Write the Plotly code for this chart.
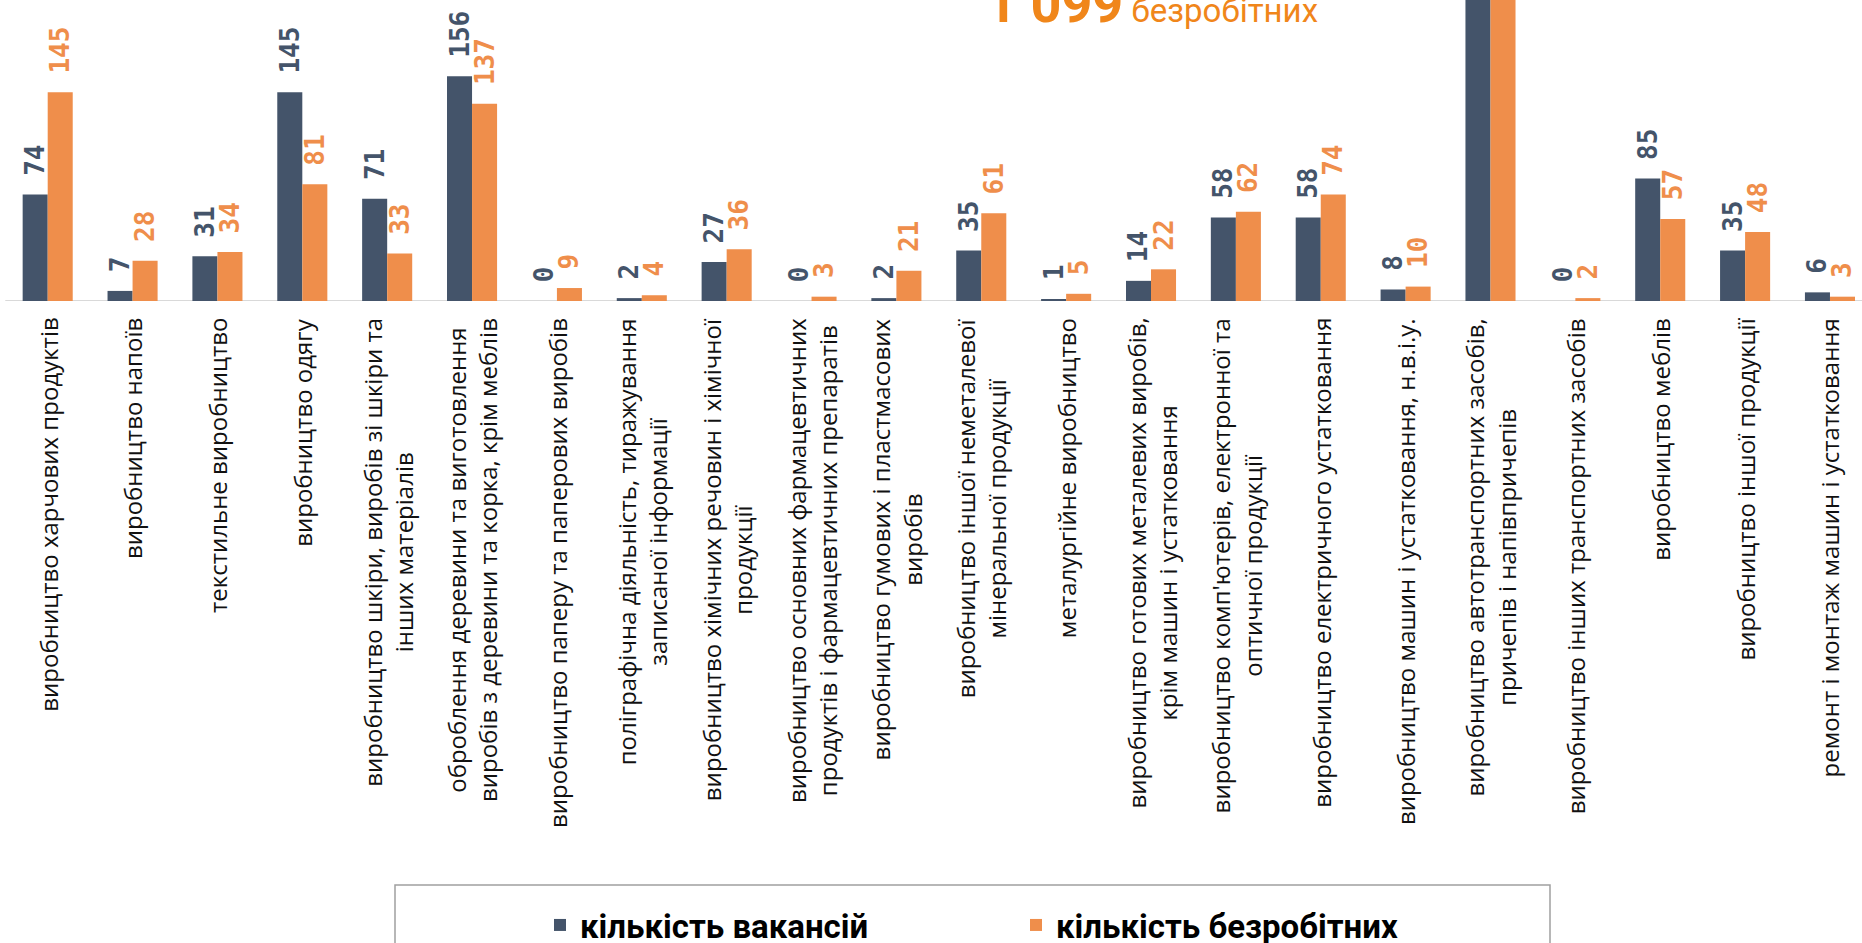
import plotly.graph_objects as go

categories = [
    "виробництво харчових продуктів",
    "виробництво напоїв",
    "текстильне виробництво",
    "виробництво одягу",
    "виробництво шкіри, виробів зі шкіри та<br>інших матеріалів",
    "оброблення деревини та виготовлення<br>виробів з деревини та корка, крім меблів",
    "виробництво паперу та паперових виробів",
    "поліграфічна діяльність, тиражування<br>записаної інформації",
    "виробництво хімічних речовин і хімічної<br>продукції",
    "виробництво основних фармацевтичних<br>продуктів і фармацевтичних препаратів",
    "виробництво гумових і пластмасових<br>виробів",
    "виробництво іншої неметалевої<br>мінеральної продукції",
    "металургійне виробництво",
    "виробництво готових металевих виробів,<br>крім машин і устатковання",
    "виробництво комп'ютерів, електронної та<br>оптичної продукції",
    "виробництво електричного устатковання",
    "виробництво машин і устатковання, н.в.і.у.",
    "виробництво автотранспортних засобів,<br>причепів і напівпричепів",
    "виробництво інших транспортних засобів",
    "виробництво меблів",
    "виробництво іншої продукції",
    "ремонт і монтаж машин і устатковання",
]
vacancies = [74, 7, 31, 145, 71, 156, 0, 2, 27, 0, 2, 35, 1, 14, 58, 58, 8, 350, 0, 85, 35, 6]
unemployed = [145, 28, 34, 81, 33, 137, 9, 4, 36, 3, 21, 61, 5, 22, 62, 74, 10, 224, 2, 57, 48, 3]
series_names = ["кількість вакансій", "кількість безробітних"]
headline_number = "1 099"
headline_word = "безробітних"

DARK = "#44546A"
ORANGE = "#EF8E4B"
HEAD = "#F0861A"

W, H = 1862, 943
PLOT_H = 301
Y_MAX = PLOT_H / 1.44
X_RANGE = [-0.562, -0.562 + W / 84.87]

fig = go.Figure()
for name, vals, col in [(series_names[0], vacancies, DARK), (series_names[1], unemployed, ORANGE)]:
    fig.add_trace(go.Bar(
        x=categories, y=vals, name=name,
        marker=dict(color=col, line=dict(width=0)),
        texttemplate="\u00a0%{y}",
        textposition="outside", textangle=-90,
        textfont=dict(family="DejaVu Sans Mono", size=26, color=col, weight="bold"),
        cliponaxis=False, constraintext="none",
    ))

# category labels, centred multi-line, rotated
for c in categories:
    fig.add_annotation(
        x=c, y=0, xref="x", yref="y", text=c, showarrow=False,
        textangle=-90, yanchor="top", xanchor="center", align="center",
        yshift=-15, font=dict(family="Open Sans", size=24, color="#111111"),
    )

# baseline
fig.add_shape(type="line", xref="x", yref="y", x0=-0.5, x1=len(categories) - 0.5, y0=0, y1=0,
              line=dict(color="#D9D9D9", width=2), layer="below")

# headline (cut off at top)
fig.add_annotation(
    x=984 / W, y=1 - 37 / PLOT_H, xref="paper", yref="paper", xanchor="left", yanchor="bottom",
    showarrow=False,
    text=f"<span style='font-size:54px;font-weight:bold'>{headline_number}</span> {headline_word}",
    font=dict(family="Roboto", size=33, color=HEAD),
)

# legend frame
fig.add_shape(type="rect", xref="paper", yref="paper",
              x0=395 / W, x1=1550 / W, y0=1 - 1000 / PLOT_H, y1=1 - 885 / PLOT_H,
              line=dict(color="#A0A0A0", width=1.5), fillcolor="rgba(0,0,0,0)")

fig.update_layout(
    width=W, height=H,
    margin=dict(l=0, r=0, t=0, b=H - PLOT_H, pad=0),
    paper_bgcolor="white", plot_bgcolor="white",
    barmode="group", bargap=0.41, bargroupgap=0,
    showlegend=True,
    legend=dict(orientation="h", x=540 / W, y=1 - 925 / H, xref="paper", yref="container",
                xanchor="left", yanchor="middle",
                font=dict(family="Liberation Sans Narrow, Roboto", size=33, color="#000000", weight="bold"),
                entrywidth=431, entrywidthmode="pixels", itemwidth=30,
                bgcolor="rgba(0,0,0,0)"),
    xaxis=dict(range=X_RANGE, showticklabels=False, showgrid=False, zeroline=False,
               showline=False, ticks="", fixedrange=True),
    yaxis=dict(range=[0, Y_MAX], visible=False, showgrid=False, zeroline=False),
)

fig.write_html("out.html")
